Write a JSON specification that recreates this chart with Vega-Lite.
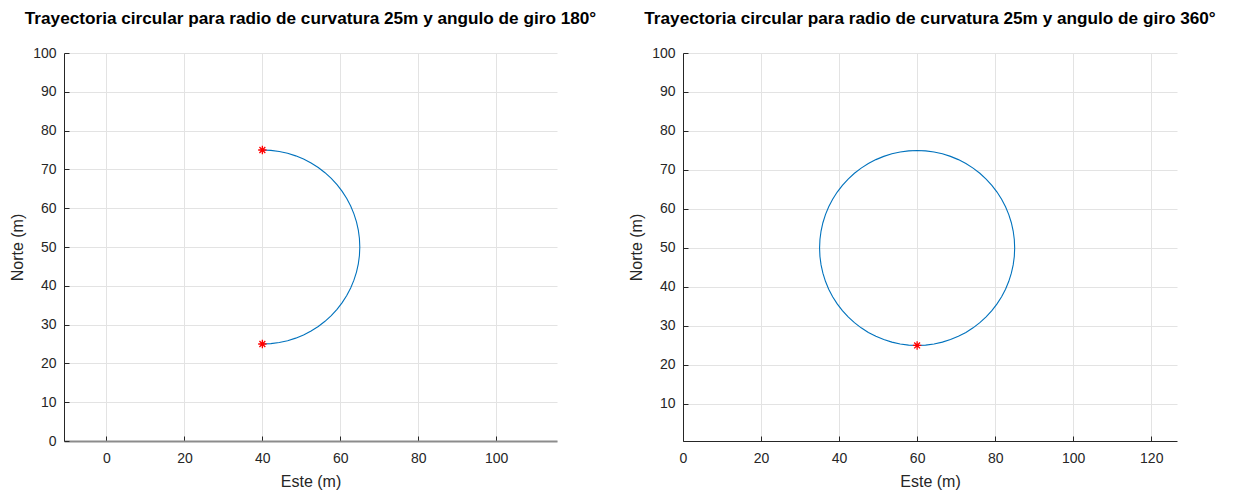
{
  "$schema": "https://vega.github.io/schema/vega-lite/v6.json",
  "bounds": "flush",
  "spacing": 126,
  "padding": {"left": 9, "top": 10, "right": 5, "bottom": 5},
  "background": "white",
  "config": {
    "font": "Liberation Sans",
    "view": {"stroke": null},
    "axis": {
      "labelFont": "Liberation Sans",
      "labelFontSize": 14,
      "labelColor": "#262626",
      "labelOverlap": false,
      "labelFlush": false,
      "titleFont": "Liberation Sans",
      "titleFontSize": 16,
      "titleFontWeight": "normal",
      "titleColor": "#262626",
      "domainColor": "#262626",
      "tickColor": "#262626",
      "tickSize": -5,
      "gridColor": "#e3e3e3",
      "gridOpacity": 1
    },
    "axisX": {"titlePadding": 8, "labelPadding": 15},
    "axisY": {"titlePadding": 7, "labelPadding": 13},
    "title": {
      "font": "Liberation Sans",
      "fontSize": 17.2,
      "fontWeight": "bold",
      "color": "#000000",
      "anchor": "middle",
      "offset": 18.5
    }
  },
  "datasets": {
    "arc180": [
      {"i": 0, "x": 40, "y": 75},
      {"i": 1, "x": 42.179, "y": 74.905},
      {"i": 2, "x": 44.341, "y": 74.62},
      {"i": 3, "x": 46.47, "y": 74.148},
      {"i": 4, "x": 48.551, "y": 73.492},
      {"i": 5, "x": 50.566, "y": 72.658},
      {"i": 6, "x": 52.5, "y": 71.651},
      {"i": 7, "x": 54.339, "y": 70.479},
      {"i": 8, "x": 56.07, "y": 69.151},
      {"i": 9, "x": 57.678, "y": 67.678},
      {"i": 10, "x": 59.151, "y": 66.07},
      {"i": 11, "x": 60.479, "y": 64.339},
      {"i": 12, "x": 61.651, "y": 62.5},
      {"i": 13, "x": 62.658, "y": 60.566},
      {"i": 14, "x": 63.492, "y": 58.551},
      {"i": 15, "x": 64.148, "y": 56.47},
      {"i": 16, "x": 64.62, "y": 54.341},
      {"i": 17, "x": 64.905, "y": 52.179},
      {"i": 18, "x": 65, "y": 50},
      {"i": 19, "x": 64.905, "y": 47.821},
      {"i": 20, "x": 64.62, "y": 45.659},
      {"i": 21, "x": 64.148, "y": 43.53},
      {"i": 22, "x": 63.492, "y": 41.449},
      {"i": 23, "x": 62.658, "y": 39.434},
      {"i": 24, "x": 61.651, "y": 37.5},
      {"i": 25, "x": 60.479, "y": 35.661},
      {"i": 26, "x": 59.151, "y": 33.93},
      {"i": 27, "x": 57.678, "y": 32.322},
      {"i": 28, "x": 56.07, "y": 30.849},
      {"i": 29, "x": 54.339, "y": 29.521},
      {"i": 30, "x": 52.5, "y": 28.349},
      {"i": 31, "x": 50.566, "y": 27.342},
      {"i": 32, "x": 48.551, "y": 26.508},
      {"i": 33, "x": 46.47, "y": 25.852},
      {"i": 34, "x": 44.341, "y": 25.38},
      {"i": 35, "x": 42.179, "y": 25.095},
      {"i": 36, "x": 40, "y": 25}
    ],
    "circle360": [
      {"i": 0, "x": 60, "y": 25},
      {"i": 1, "x": 62.179, "y": 25.095},
      {"i": 2, "x": 64.341, "y": 25.38},
      {"i": 3, "x": 66.47, "y": 25.852},
      {"i": 4, "x": 68.551, "y": 26.508},
      {"i": 5, "x": 70.566, "y": 27.342},
      {"i": 6, "x": 72.5, "y": 28.349},
      {"i": 7, "x": 74.339, "y": 29.521},
      {"i": 8, "x": 76.07, "y": 30.849},
      {"i": 9, "x": 77.678, "y": 32.322},
      {"i": 10, "x": 79.151, "y": 33.93},
      {"i": 11, "x": 80.479, "y": 35.661},
      {"i": 12, "x": 81.651, "y": 37.5},
      {"i": 13, "x": 82.658, "y": 39.434},
      {"i": 14, "x": 83.492, "y": 41.449},
      {"i": 15, "x": 84.148, "y": 43.53},
      {"i": 16, "x": 84.62, "y": 45.659},
      {"i": 17, "x": 84.905, "y": 47.821},
      {"i": 18, "x": 85, "y": 50},
      {"i": 19, "x": 84.905, "y": 52.179},
      {"i": 20, "x": 84.62, "y": 54.341},
      {"i": 21, "x": 84.148, "y": 56.47},
      {"i": 22, "x": 83.492, "y": 58.551},
      {"i": 23, "x": 82.658, "y": 60.566},
      {"i": 24, "x": 81.651, "y": 62.5},
      {"i": 25, "x": 80.479, "y": 64.339},
      {"i": 26, "x": 79.151, "y": 66.07},
      {"i": 27, "x": 77.678, "y": 67.678},
      {"i": 28, "x": 76.07, "y": 69.151},
      {"i": 29, "x": 74.339, "y": 70.479},
      {"i": 30, "x": 72.5, "y": 71.651},
      {"i": 31, "x": 70.566, "y": 72.658},
      {"i": 32, "x": 68.551, "y": 73.492},
      {"i": 33, "x": 66.47, "y": 74.148},
      {"i": 34, "x": 64.341, "y": 74.62},
      {"i": 35, "x": 62.179, "y": 74.905},
      {"i": 36, "x": 60, "y": 75},
      {"i": 37, "x": 57.821, "y": 74.905},
      {"i": 38, "x": 55.659, "y": 74.62},
      {"i": 39, "x": 53.53, "y": 74.148},
      {"i": 40, "x": 51.449, "y": 73.492},
      {"i": 41, "x": 49.434, "y": 72.658},
      {"i": 42, "x": 47.5, "y": 71.651},
      {"i": 43, "x": 45.661, "y": 70.479},
      {"i": 44, "x": 43.93, "y": 69.151},
      {"i": 45, "x": 42.322, "y": 67.678},
      {"i": 46, "x": 40.849, "y": 66.07},
      {"i": 47, "x": 39.521, "y": 64.339},
      {"i": 48, "x": 38.349, "y": 62.5},
      {"i": 49, "x": 37.342, "y": 60.566},
      {"i": 50, "x": 36.508, "y": 58.551},
      {"i": 51, "x": 35.852, "y": 56.47},
      {"i": 52, "x": 35.38, "y": 54.341},
      {"i": 53, "x": 35.095, "y": 52.179},
      {"i": 54, "x": 35, "y": 50},
      {"i": 55, "x": 35.095, "y": 47.821},
      {"i": 56, "x": 35.38, "y": 45.659},
      {"i": 57, "x": 35.852, "y": 43.53},
      {"i": 58, "x": 36.508, "y": 41.449},
      {"i": 59, "x": 37.342, "y": 39.434},
      {"i": 60, "x": 38.349, "y": 37.5},
      {"i": 61, "x": 39.521, "y": 35.661},
      {"i": 62, "x": 40.849, "y": 33.93},
      {"i": 63, "x": 42.322, "y": 32.322},
      {"i": 64, "x": 43.93, "y": 30.849},
      {"i": 65, "x": 45.661, "y": 29.521},
      {"i": 66, "x": 47.5, "y": 28.349},
      {"i": 67, "x": 49.434, "y": 27.342},
      {"i": 68, "x": 51.449, "y": 26.508},
      {"i": 69, "x": 53.53, "y": 25.852},
      {"i": 70, "x": 55.659, "y": 25.38},
      {"i": 71, "x": 57.821, "y": 25.095},
      {"i": 72, "x": 60, "y": 25}
    ],
    "ends180": [
      {"x": 40, "y": 75},
      {"x": 40, "y": 25}
    ],
    "ends360": [
      {"x": 60, "y": 25}
    ]
  },
  "hconcat": [
    {
      "title": "Trayectoria circular para radio de curvatura 25m y angulo de giro 180°",
      "width": 493,
      "height": 388,
      "encoding": {
        "x": {
          "field": "x", "type": "quantitative",
          "scale": {"domain": [-10.9, 115.6], "nice": false, "zero": false},
          "axis": {"title": "Este (m)", "values": [0, 20, 40, 60, 80, 100], "labelOverlap": false, "domainColor": "#8c8c8c", "domainWidth": 2}
        },
        "y": {
          "field": "y", "type": "quantitative",
          "scale": {"domain": [0, 100], "nice": false, "zero": false},
          "axis": {"title": "Norte (m)", "values": [0, 10, 20, 30, 40, 50, 60, 70, 80, 90, 100], "labelOverlap": false, "tickCount": 11}
        }
      },
      "layer": [
        {
          "data": {"name": "arc180"},
          "mark": {"type": "line", "color": "#0072BD", "strokeWidth": 1.1},
          "encoding": {
            "order": {"field": "i", "type": "quantitative"}
          }
        },
        {
          "data": {"name": "ends180"},
          "mark": {
            "type": "point",
            "shape": "M-1,0L1,0M0,-1L0,1M-0.7,-0.7L0.7,0.7M-0.7,0.7L0.7,-0.7",
            "size": 70,
            "stroke": "#ff0000",
            "strokeWidth": 1.3,
            "filled": false,
            "opacity": 1
          },
          "encoding": {}
        }
      ]
    },
    {
      "title": "Trayectoria circular para radio de curvatura 25m y angulo de giro 360°",
      "width": 494,
      "height": 388,
      "encoding": {
        "x": {
          "field": "x", "type": "quantitative",
          "scale": {"domain": [0, 126.6], "nice": false, "zero": false},
          "axis": {"title": "Este (m)", "values": [0, 20, 40, 60, 80, 100, 120], "labelOverlap": false}
        },
        "y": {
          "field": "y", "type": "quantitative",
          "scale": {"domain": [0.5, 100], "nice": false, "zero": false},
          "axis": {"title": "Norte (m)", "values": [10, 20, 30, 40, 50, 60, 70, 80, 90, 100], "labelOverlap": false}
        }
      },
      "layer": [
        {
          "data": {"name": "circle360"},
          "mark": {"type": "line", "color": "#0072BD", "strokeWidth": 1.1},
          "encoding": {
            "order": {"field": "i", "type": "quantitative"}
          }
        },
        {
          "data": {"name": "ends360"},
          "mark": {
            "type": "point",
            "shape": "M-1,0L1,0M0,-1L0,1M-0.7,-0.7L0.7,0.7M-0.7,0.7L0.7,-0.7",
            "size": 70,
            "stroke": "#ff0000",
            "strokeWidth": 1.3,
            "filled": false,
            "opacity": 1
          },
          "encoding": {}
        }
      ]
    }
  ]
}
